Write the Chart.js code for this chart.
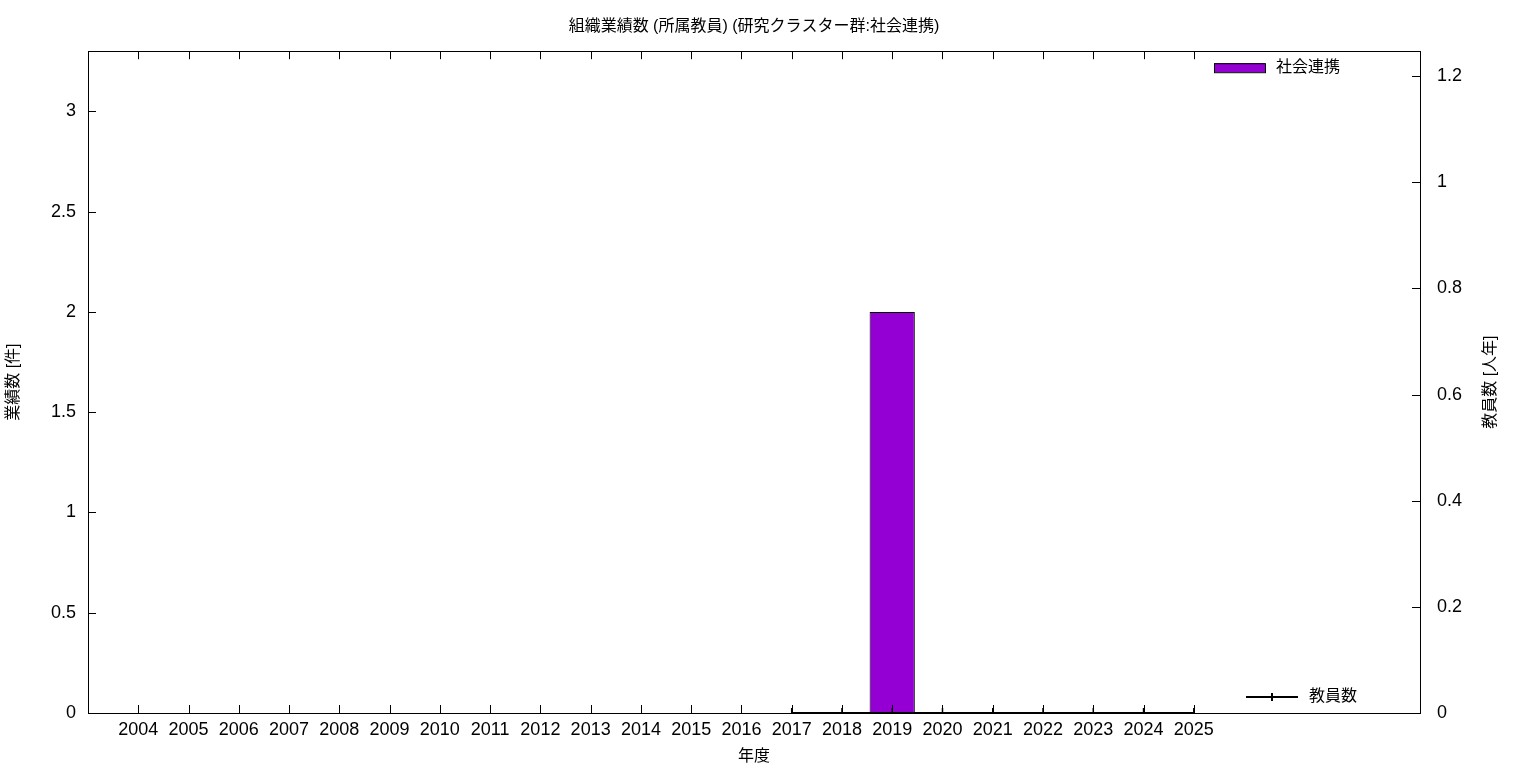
<!DOCTYPE html>
<html lang="ja">
<head>
  <meta charset="UTF-8" />
  <title>組織業績数 (所属教員)</title>
  <script src="https://cdn.jsdelivr.net/npm/chart.js"></script>
  <style>
    html, body { margin: 0; padding: 0; background: #fff; }
    #wrap { width: 1536px; height: 768px; }
  </style>
</head>
<body>
  <div id="wrap"><canvas id="chart" width="1536" height="768"></canvas></div>

  <script>
    const years = [2004, 2005, 2006, 2007, 2008, 2009, 2010, 2011, 2012, 2013, 2014,
                   2015, 2016, 2017, 2018, 2019, 2020, 2021, 2022, 2023, 2024, 2025];
    const outputCounts = [0, 0, 0, 0, 0, 0, 0, 0, 0, 0, 0, 0, 0, 0, 0, 2, 0, 0, 0, 0, 0, 0];
    const staffYears = [null, null, null, null, null, null, null, null, null, null, null,
                        null, null, 0, 0, 0, 0, 0, 0, 0, 0, 0];
    const leftTicks = [0, 0.5, 1, 1.5, 2, 2.5, 3];
    const rightTicks = [0, 0.2, 0.4, 0.6, 0.8, 1, 1.2];

    const FONT = "'Liberation Sans', 'Noto Sans CJK JP', sans-serif";
    Chart.defaults.font.family = FONT;
    Chart.defaults.color = '#000';

    // gnuplot style: ticks pointing inward + a box around the plot
    const innerTicks = {
      id: 'innerTicks',
      afterDraw(chart) {
        const { ctx, chartArea: a, scales } = chart;
        const len = 8;
        ctx.save();
        ctx.strokeStyle = '#000';
        ctx.lineWidth = 1;
        ctx.beginPath();
        scales.x.ticks.forEach(t => {
          const px = Math.round(scales.x.getPixelForValue(t.value)) + 0.5;
          ctx.moveTo(px, a.bottom); ctx.lineTo(px, a.bottom - len);
          ctx.moveTo(px, a.top); ctx.lineTo(px, a.top + len);
        });
        scales.y.ticks.forEach(t => {
          const py = Math.round(scales.y.getPixelForValue(t.value)) + 0.5;
          ctx.moveTo(a.left, py); ctx.lineTo(a.left + len, py);
        });
        scales.y1.ticks.forEach(t => {
          const py = Math.round(scales.y1.getPixelForValue(t.value)) + 0.5;
          ctx.moveTo(a.right, py); ctx.lineTo(a.right - len, py);
        });
        ctx.stroke();
        ctx.strokeRect(Math.round(a.left) + 0.5, Math.round(a.top) + 0.5,
                       Math.round(a.right - a.left), Math.round(a.bottom - a.top));

        // right axis title, reading bottom-to-top like the left one
        ctx.save();
        ctx.translate(a.right + 71, (a.top + a.bottom) / 2);
        ctx.rotate(-Math.PI / 2);
        ctx.font = '16px ' + FONT;
        ctx.fillStyle = '#000';
        ctx.textAlign = 'center';
        ctx.textBaseline = 'middle';
        ctx.fillText('教員数 [人年]', 0, 0);
        ctx.restore();
        ctx.restore();
      }
    };

    // two separate keys like the original (top right for bars, bottom right for line)
    const splitLegend = {
      id: 'splitLegend',
      afterDraw(chart) {
        const { ctx, chartArea: a } = chart;
        const bar = chart.data.datasets[0];
        const line = chart.data.datasets[1];
        ctx.save();
        ctx.font = '16px ' + FONT;
        ctx.textBaseline = 'middle';

        let y = a.top + 16;
        ctx.fillStyle = bar.backgroundColor;
        ctx.fillRect(a.right - 206, y - 4, 51, 9);
        ctx.strokeStyle = bar.borderColor;
        ctx.lineWidth = 1;
        ctx.strokeRect(a.right - 206 + 0.5, y - 4 + 0.5, 51, 9);
        ctx.fillStyle = '#000';
        ctx.fillText(bar.label, a.right - 144, y);

        y = a.bottom - 16;
        ctx.strokeStyle = line.borderColor;
        ctx.lineWidth = 2;
        ctx.beginPath();
        ctx.moveTo(a.right - 174, y); ctx.lineTo(a.right - 122, y);
        ctx.moveTo(a.right - 148, y - 4); ctx.lineTo(a.right - 148, y + 4);
        ctx.stroke();
        ctx.fillText(line.label, a.right - 111, y);
        ctx.restore();
      }
    };

    new Chart(document.getElementById('chart').getContext('2d'), {
      type: 'bar',
      data: {
        datasets: [{
          label: '社会連携',
          data: years.map((yr, i) => ({ x: yr, y: outputCounts[i] })),
          backgroundColor: '#9400d3',
          borderColor: '#000',
          borderWidth: 1,
          borderSkipped: 'bottom',
          barPercentage: 0.9,
          categoryPercentage: 1,
          yAxisID: 'y',
          order: 2
        }, {
          type: 'line',
          label: '教員数',
          data: years.map((yr, i) => ({ x: yr, y: staffYears[i] })),
          borderColor: '#000',
          borderWidth: 2,
          pointStyle: 'line',
          rotation: 90,
          pointRadius: 5,
          pointBorderWidth: 1.5,
          pointBorderColor: '#000',
          spanGaps: false,
          yAxisID: 'y1',
          order: 1
        }]
      },
      options: {
        responsive: false,
        animation: false,
        layout: { padding: 0 },
        plugins: {
          legend: { display: false },
          tooltip: { enabled: false },
          title: {
            display: true,
            fullSize: false,
            text: '組織業績数 (所属教員) (研究クラスター群:社会連携)',
            font: { size: 16, weight: 'normal' },
            padding: { top: 17, bottom: 15 }
          }
        },
        scales: {
          x: {
            type: 'linear',
            offset: false,
            min: 2003,
            max: 2029.5,
            afterBuildTicks: s => { s.ticks = years.map(v => ({ value: v })); },
            afterFit: s => { s.height = 55; },
            grid: { display: false, drawTicks: false },
            border: { display: false },
            ticks: { font: { size: 18 }, padding: 6, maxRotation: 0, autoSkip: false,
                     callback: v => String(v) },
            title: { display: true, text: '年度', font: { size: 16 }, padding: { top: 4, bottom: 2 } }
          },
          y: {
            position: 'left',
            min: 0,
            max: 3.3,
            afterBuildTicks: s => { s.ticks = leftTicks.map(v => ({ value: v })); },
            afterFit: s => { s.width = 88; },
            grid: { display: false, drawTicks: false },
            border: { display: false },
            ticks: { font: { size: 18 }, padding: 12, callback: v => String(v) },
            title: { display: true, text: '業績数 [件]', font: { size: 16 }, padding: { top: 4, bottom: 4 } }
          },
          y1: {
            position: 'right',
            min: 0,
            max: 1.247,
            afterBuildTicks: s => { s.ticks = rightTicks.map(v => ({ value: v })); },
            afterFit: s => { s.width = 116; },
            grid: { display: false, drawTicks: false },
            border: { display: false },
            ticks: { font: { size: 18 }, padding: 17, callback: v => String(v) },
            title: { display: false }
          }
        }
      },
      plugins: [innerTicks, splitLegend]
    });
  </script>
</body>
</html>
